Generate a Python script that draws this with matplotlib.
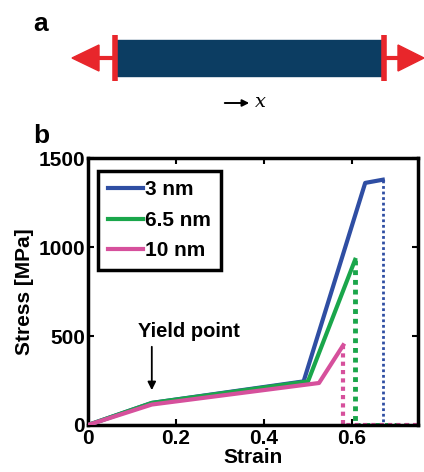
"""
Stress-strain curves of nanowires of three diameters, with a sketch of the
tensile loading above.
"""

import matplotlib
matplotlib.use('Agg')
import matplotlib.pyplot as plt
from matplotlib.patches import Rectangle, Polygon

plt.rcParams['font.family'] = ['Liberation Sans', 'DejaVu Sans']
plt.rcParams['font.weight'] = 'bold'

# --- data ---
labels = ['3 nm', '6.5 nm', '10 nm']
colors = ['#2f4ea3', '#1aa64b', '#d6509c']
strain_3 = [0.0, 0.145, 0.49, 0.63, 0.67]
stress_3 = [0, 124, 245, 1360, 1378]
strain_65 = [0.0, 0.145, 0.50, 0.607]
stress_65 = [0, 124, 245, 928]
strain_10 = [0.0, 0.145, 0.525, 0.58]
stress_10 = [0, 115, 236, 448]
strain_end = 0.75
yield_strain = 0.145

series = [(strain_3, stress_3), (strain_65, stress_65), (strain_10, stress_10)]
dot_widths = [2.0, 3.5, 3.0]

fig = plt.figure(figsize=(4.24, 4.72), dpi=100)

# --- panel a: sketch in pixel coordinates ---
ax_a = fig.add_axes([0, 1 - 118 / 472, 1, 118 / 472])
ax_a.set_xlim(0, 424)
ax_a.set_ylim(118, 0)
ax_a.axis('off')
red = '#e8262b'
ax_a.add_patch(Rectangle((117, 40), 265, 36, color='#0c3d62', zorder=2))
ax_a.plot([115, 115], [35, 81], color=red, lw=4, solid_capstyle='butt', zorder=3)
ax_a.plot([384, 384], [35, 81], color=red, lw=4, solid_capstyle='butt', zorder=3)
ax_a.plot([96, 115], [58, 58], color=red, lw=3, zorder=3)
ax_a.plot([384, 400], [58, 58], color=red, lw=3, zorder=3)
ax_a.add_patch(Polygon([[72, 58], [99, 45], [99, 71]], color=red, zorder=3))
ax_a.add_patch(Polygon([[424, 58], [398, 45], [398, 71]], color=red, zorder=3))
ax_a.text(33, 24, 'a', fontsize=19, fontweight='bold', va='center', ha='left')
ax_a.annotate('', xy=(252, 103), xytext=(222, 103),
              arrowprops=dict(arrowstyle='-|>', color='black', lw=1.4,
                              mutation_scale=10))
ax_a.text(255, 102, 'x', fontsize=14, fontstyle='italic', fontweight='normal',
          family='DejaVu Serif', va='center', ha='left')

fig.text(33 / 424, 1 - 136 / 472, 'b', fontsize=19, fontweight='bold',
         va='center', ha='left')

# --- panel b: stress-strain ---
ax = fig.add_axes([88 / 424, 1 - 425 / 472, 330 / 424, 267 / 472])
for (x, y), c, lab, dw in zip(series, colors, labels, dot_widths):
    ax.plot(x, y, color=c, lw=3, label=lab, zorder=3)
    ax.plot([x[-1], x[-1], strain_end], [y[-1], 0, 0], color=c, lw=dw,
            ls=(0, (1, 1)), zorder=2)

ax.annotate('', xy=(yield_strain, 180), xytext=(yield_strain, 455),
            arrowprops=dict(arrowstyle='-|>', color='black', lw=1.3,
                            mutation_scale=12))
ax.text(yield_strain - 0.032, 470, 'Yield point', fontsize=14.5,
        fontweight='bold', ha='left', va='bottom')

ax.set_xlim(0, strain_end)
ax.set_ylim(0, 1500)
ax.set_xticks([0, 0.2, 0.4, 0.6])
ax.set_xticklabels(['0', '0.2', '0.4', '0.6'])
ax.set_yticks([0, 500, 1000, 1500])
ax.tick_params(direction='in', top=True, right=True, length=4, width=1.5,
               labelsize=15, pad=2)
ax.tick_params(axis='x', pad=3)
for lab in ax.get_xticklabels() + ax.get_yticklabels():
    lab.set_fontweight('bold')
for sp in ax.spines.values():
    sp.set_linewidth(2.5)
ax.set_xlabel('Strain', fontsize=15, fontweight='bold', labelpad=0)
ax.set_ylabel('Stress [MPa]', fontsize=15, fontweight='bold', labelpad=3)

leg = ax.legend(loc='upper left', fontsize=15, handlelength=1.7,
                handletextpad=0.1, borderpad=0.45, labelspacing=0.55,
                fancybox=False, framealpha=1, edgecolor='black',
                bbox_to_anchor=(0.0, 0.99))
leg.get_frame().set_linewidth(2.5)
for t in leg.get_texts():
    t.set_fontweight('bold')

fig.savefig('out.png', dpi=100)
